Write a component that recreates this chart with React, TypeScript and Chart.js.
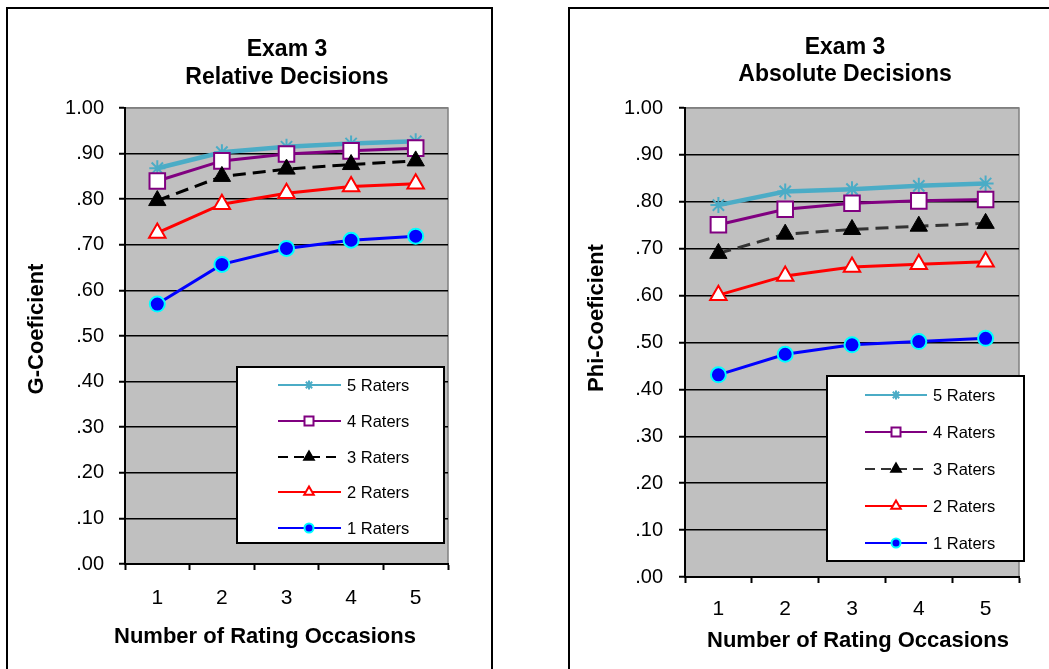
import React, { useEffect, useRef } from 'react';
import { Chart, registerables } from 'chart.js';

Chart.register(...registerables);

const FONT = '"Liberation Sans", Arial, Helvetica, sans-serif';

const occasions = ['1', '2', '3', '4', '5'];
const raterLabels = ['1 Raters', '2 Raters', '3 Raters', '4 Raters', '5 Raters'];
const yTickValues = [0, 0.1, 0.2, 0.3, 0.4, 0.5, 0.6, 0.7, 0.8, 0.9, 1.0];

// Relative decisions (G-coefficient)
const relative1 = [0.570, 0.657, 0.692, 0.710, 0.719];
const relative2 = [0.726, 0.789, 0.813, 0.828, 0.834];
const relative3 = [0.797, 0.850, 0.866, 0.876, 0.884];
const relative4 = [0.840, 0.884, 0.899, 0.906, 0.912];
const relative5 = [0.868, 0.903, 0.915, 0.922, 0.927];

// Absolute decisions (Phi-coefficient)
const absolute1 = [0.431, 0.475, 0.495, 0.502, 0.509];
const absolute2 = [0.601, 0.642, 0.661, 0.667, 0.672];
const absolute3 = [0.690, 0.731, 0.741, 0.748, 0.754];
const absolute4 = [0.751, 0.784, 0.797, 0.802, 0.805];
const absolute5 = [0.793, 0.822, 0.827, 0.834, 0.839];

type Style = {
  color: string; width: number; dash: number[]; point: string; radius: number;
  bg: string; border: string; bw: number; legendDash: number[];
};

function seriesStyles(dashColor: string): Style[] {
  return [
    { color: '#0000ff', width: 3, dash: [], point: 'circle', radius: 7.5, bg: '#0000ff', border: '#00ffff', bw: 2, legendDash: [] },
    { color: '#ff0000', width: 3, dash: [], point: 'triangle', radius: 9.5, bg: '#ffffff', border: '#ff0000', bw: 2, legendDash: [] },
    { color: dashColor, width: 3, dash: [13, 7], point: 'triangle', radius: 10, bg: '#000000', border: '#000000', bw: 1, legendDash: [10, 6] },
    { color: '#800080', width: 3, dash: [], point: 'rect', radius: 11, bg: '#ffffff', border: '#800080', bw: 2, legendDash: [] },
    { color: '#4bacc6', width: 4.5, dash: [], point: 'star', radius: 8, bg: '#4bacc6', border: '#4bacc6', bw: 2, legendDash: [] },
  ];
}

type PanelCfg = {
  width: number;
  left: number;
  series: number[][];
  dashColor: string;
  title: string[];
  titleX: number;
  titleY: number[];
  yTitle: string;
  yTitlePos: [number, number];
  xTitle: string;
  xTitlePos: [number, number];
  area: { left: number; right: number; top: number; bottom: number };
  yPad: number;
  xPad: number;
  legend: { x1: number; y1: number; x2: number; y2: number; rows: number[]; lx1: number; lx2: number; mx: number; tx: number };
  frame: { x1: number; x2: number | null; y: number };
};

const panels: PanelCfg[] = [
  {
    width: 530, left: 0,
    series: [relative1, relative2, relative3, relative4, relative5],
    dashColor: '#000000',
    title: ['Exam 3', 'Relative Decisions'], titleX: 287, titleY: [56, 84],
    yTitle: 'G-Coeficient', yTitlePos: [37, 329],
    xTitle: 'Number of Rating Occasions', xTitlePos: [265, 643],
    area: { left: 125, right: 448, top: 108, bottom: 564 },
    yPad: 15, xPad: 16,
    legend: { x1: 237, y1: 367, x2: 444, y2: 543, rows: [385, 421, 457, 492, 528], lx1: 278, lx2: 341, mx: 309, tx: 347 },
    frame: { x1: 7, x2: 492, y: 8 },
  },
  {
    width: 519, left: 530,
    series: [absolute1, absolute2, absolute3, absolute4, absolute5],
    dashColor: '#333333',
    title: ['Exam 3', 'Absolute Decisions'], titleX: 315, titleY: [54, 81],
    yTitle: 'Phi-Coeficient', yTitlePos: [67, 318],
    xTitle: 'Number of Rating Occasions', xTitlePos: [328, 647],
    area: { left: 155, right: 489, top: 108, bottom: 577 },
    yPad: 16, xPad: 14,
    legend: { x1: 297, y1: 376, x2: 494, y2: 561, rows: [395, 432, 469, 506, 543], lx1: 335, lx2: 397, mx: 366, tx: 403 },
    frame: { x1: 39, x2: null, y: 8 },
  },
];

const HEIGHT = 669;

function drawMarker(ctx: CanvasRenderingContext2D, st: Style, x: number, y: number) {
  ctx.save();
  ctx.setLineDash([]);
  ctx.lineWidth = 2;
  ctx.strokeStyle = st.border;
  ctx.fillStyle = st.bg;
  ctx.beginPath();
  if (st.point === 'circle') {
    ctx.arc(x, y, 4.5, 0, Math.PI * 2);
    ctx.fill();
    ctx.stroke();
  } else if (st.point === 'triangle') {
    const r = 5.5;
    ctx.moveTo(x, y - r);
    ctx.lineTo(x + r * 0.866, y + r * 0.5);
    ctx.lineTo(x - r * 0.866, y + r * 0.5);
    ctx.closePath();
    ctx.fill();
    ctx.stroke();
  } else if (st.point === 'rect') {
    ctx.rect(x - 4.5, y - 4.5, 9, 9);
    ctx.fill();
    ctx.stroke();
  } else if (st.point === 'star') {
    const r = 4.5;
    ctx.moveTo(x - r, y); ctx.lineTo(x + r, y);
    ctx.moveTo(x, y - r); ctx.lineTo(x, y + r);
    const d = r * 0.7071;
    ctx.moveTo(x - d, y - d); ctx.lineTo(x + d, y + d);
    ctx.moveTo(x - d, y + d); ctx.lineTo(x + d, y - d);
    ctx.stroke();
  }
  ctx.restore();
}

function makeDecor(cfg: PanelCfg, styles: Style[]) {
  return {
    id: 'decor',
    beforeDraw(chart: any) {
      const { ctx, chartArea: a } = chart;
      ctx.save();
      ctx.fillStyle = '#ffffff';
      ctx.fillRect(0, 0, chart.width, chart.height);
      ctx.fillStyle = '#c0c0c0';
      ctx.fillRect(a.left, a.top, a.right - a.left, a.bottom - a.top);
      ctx.strokeStyle = '#808080';
      ctx.lineWidth = 1.5;
      ctx.beginPath();
      ctx.moveTo(a.left, a.top);
      ctx.lineTo(a.right, a.top);
      ctx.lineTo(a.right, a.bottom);
      ctx.stroke();
      ctx.restore();
    },
    afterDraw(chart: any) {
      const ctx: CanvasRenderingContext2D = chart.ctx;
      ctx.save();
      // frame
      ctx.strokeStyle = '#000000';
      ctx.lineWidth = 2;
      ctx.beginPath();
      const f = cfg.frame;
      const right = f.x2 === null ? chart.width + 5 : f.x2;
      ctx.moveTo(f.x1, HEIGHT + 5);
      ctx.lineTo(f.x1, f.y);
      ctx.lineTo(right, f.y);
      if (f.x2 !== null) ctx.lineTo(right, HEIGHT + 5);
      ctx.stroke();

      // titles
      ctx.fillStyle = '#000000';
      ctx.textAlign = 'center';
      ctx.textBaseline = 'alphabetic';
      ctx.font = `bold 23px ${FONT}`;
      cfg.title.forEach((t, i) => ctx.fillText(t, cfg.titleX, cfg.titleY[i]));
      ctx.font = `bold 22px ${FONT}`;
      ctx.fillText(cfg.xTitle, cfg.xTitlePos[0], cfg.xTitlePos[1]);
      ctx.save();
      ctx.translate(cfg.yTitlePos[0], cfg.yTitlePos[1]);
      ctx.rotate(-Math.PI / 2);
      ctx.textBaseline = 'middle';
      ctx.font = `bold 22px ${FONT}`;
      ctx.fillText(cfg.yTitle, 0, 0);
      ctx.restore();

      // legend
      const L = cfg.legend;
      ctx.fillStyle = '#ffffff';
      ctx.fillRect(L.x1, L.y1, L.x2 - L.x1, L.y2 - L.y1);
      ctx.strokeStyle = '#000000';
      ctx.lineWidth = 2;
      ctx.strokeRect(L.x1, L.y1, L.x2 - L.x1, L.y2 - L.y1);
      ctx.font = `16.5px ${FONT}`;
      ctx.textAlign = 'left';
      ctx.textBaseline = 'middle';
      const order = [4, 3, 2, 1, 0];
      order.forEach((si, row) => {
        const st = styles[si];
        const y = L.rows[row];
        ctx.save();
        ctx.strokeStyle = st.color;
        ctx.lineWidth = 2;
        ctx.setLineDash(st.legendDash);
        ctx.beginPath();
        ctx.moveTo(L.lx1, y);
        ctx.lineTo(L.lx2, y);
        ctx.stroke();
        ctx.restore();
        drawMarker(ctx, st, L.mx, y);
        ctx.fillStyle = '#000000';
        ctx.fillText(raterLabels[si], L.tx, y + 1);
      });
      ctx.restore();
    },
  };
}

function fmtTick(v: number) {
  const s = Number(v).toFixed(2);
  return s.startsWith('0') ? s.slice(1) : s;
}

function Panel({ cfg }: { cfg: PanelCfg }) {
  const ref = useRef<HTMLCanvasElement | null>(null);
  useEffect(() => {
    if (!ref.current) return;
    const styles = seriesStyles(cfg.dashColor);
    const datasets = cfg.series.map((data, i) => {
      const st = styles[i];
      return {
        label: raterLabels[i],
        data,
        borderColor: st.color,
        borderWidth: st.width,
        borderDash: st.dash,
        pointStyle: st.point,
        pointRadius: st.radius,
        pointHoverRadius: st.radius,
        pointBackgroundColor: st.bg,
        pointBorderColor: st.border,
        pointBorderWidth: st.bw,
        tension: 0,
        fill: false,
      };
    });
    const a = cfg.area;
    const chart = new Chart(ref.current, {
      type: 'line',
      data: { labels: occasions, datasets: datasets as any },
      plugins: [makeDecor(cfg, styles) as any],
      options: {
        responsive: false,
        animation: false,
        devicePixelRatio: 1,
        layout: { padding: { left: 0, top: a.top, right: cfg.width - a.right, bottom: 0 } },
        plugins: { legend: { display: false }, title: { display: false }, tooltip: { enabled: false } },
        scales: {
          x: {
            type: 'category',
            offset: true,
            afterFit: (s: any) => { s.height = HEIGHT - a.bottom; },
            grid: { offset: true, drawOnChartArea: false, drawTicks: true, tickLength: 6, tickColor: '#000000', tickWidth: 2, color: '#000000' },
            border: { color: '#000000', width: 2 },
            ticks: { color: '#000000', font: { family: FONT, size: 21 }, padding: cfg.xPad, maxRotation: 0 },
          },
          y: {
            min: 0,
            max: 1,
            afterFit: (s: any) => { s.width = a.left; },
            afterBuildTicks: (s: any) => { s.ticks = yTickValues.map((v) => ({ value: v })); },
            grid: {
              color: (c: any) => (c.tick && c.tick.value >= 0.999 ? '#808080' : '#000000'),
              lineWidth: 1.5,
              drawTicks: true,
              tickLength: 6,
              tickColor: '#000000',
              tickWidth: 2,
            },
            border: { color: '#000000', width: 2 },
            ticks: {
              color: '#000000',
              font: { family: FONT, size: 20 },
              padding: cfg.yPad,
              callback: (v: any) => fmtTick(Number(v)),
            },
          },
        },
      } as any,
    });
    return () => chart.destroy();
  }, [cfg]);
  return (
    <canvas
      ref={ref}
      width={cfg.width}
      height={HEIGHT}
      style={{ position: 'absolute', left: cfg.left, top: 0, width: cfg.width, height: HEIGHT, display: 'block' }}
    />
  );
}

export default function App() {
  return (
    <div style={{ position: 'absolute', left: 0, top: 0, width: 1049, height: HEIGHT, overflow: 'hidden', background: '#ffffff' }}>
      {panels.map((p, i) => (
        <Panel key={i} cfg={p} />
      ))}
    </div>
  );
}
